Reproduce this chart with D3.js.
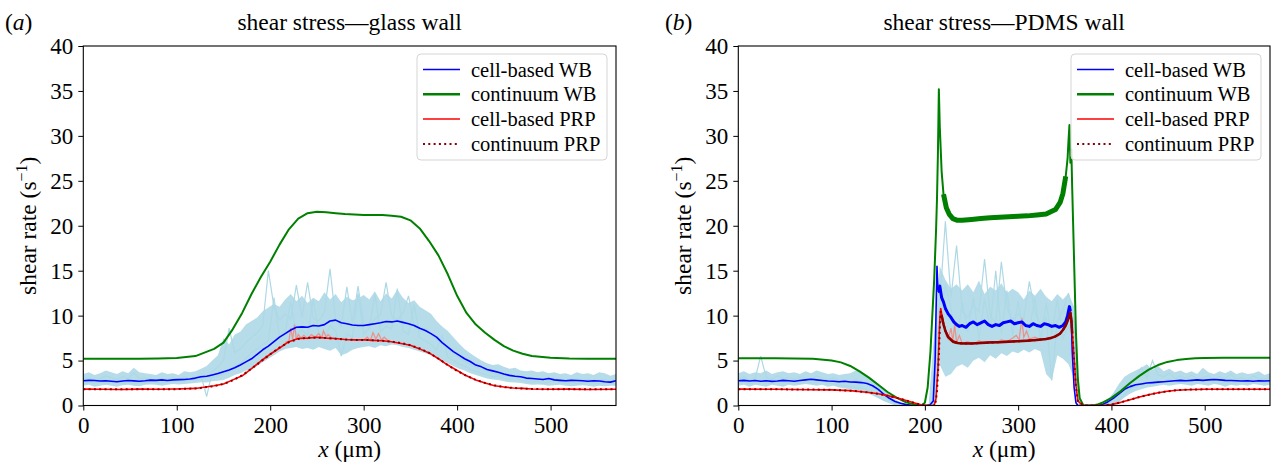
<!DOCTYPE html>
<html>
<head>
<meta charset="utf-8">
<script src="https://cdn.jsdelivr.net/npm/d3@7"></script>
<style>
  body { margin: 0; background: #fff; }
  svg { display: block; font-family: "Liberation Serif", "Times New Roman", serif; }
</style>
</head>
<body>
<div id="chart"></div>
<script>
// sample positions (um) for the noisy cell traces, every 6 um
const grid6 = d3.range(0, 571, 6);

// ---------- panel (a): glass wall ----------
const xsContA = [0,20,40,60,80,100,120,140,150,160,170,180,190,200,210,220,230,240,250,260,270,280,290,300,310,320,330,340,350,360,370,380,390,400,410,420,430,440,450,460,470,480,500,520,540,570];
const contWBa = [5.2,5.2,5.2,5.2,5.22,5.28,5.5,6.3,7.0,8.5,10.3,12.4,14.3,16.0,17.9,19.6,20.8,21.4,21.55,21.5,21.4,21.3,21.25,21.2,21.2,21.2,21.1,21.0,20.6,19.7,18.3,16.7,14.6,12.2,10.3,9.0,8.1,7.3,6.6,6.1,5.75,5.5,5.3,5.22,5.2,5.2];
const contPRPa = [1.8,1.8,1.8,1.8,1.8,1.82,1.9,2.15,2.4,2.8,3.35,4.1,4.9,5.7,6.45,7.05,7.4,7.55,7.55,7.5,7.42,7.35,7.3,7.3,7.25,7.2,7.1,6.95,6.7,6.35,5.85,5.2,4.5,3.85,3.3,2.85,2.5,2.25,2.05,1.95,1.88,1.84,1.8,1.8,1.8,1.8];
const cellPRPa = [1.82,1.8,1.78,1.82,1.8,1.83,1.9,2.2,2.4,2.85,3.3,4.1,4.95,5.7,6.4,7.1,7.45,7.5,7.6,7.5,7.45,7.35,7.3,7.32,7.25,7.2,7.1,6.9,6.7,6.3,5.85,5.2,4.5,3.9,3.3,2.85,2.5,2.2,2.05,1.95,1.9,1.83,1.8,1.82,1.78,1.8];

// cell-based WB mean on grid6
const cellWBa = [
  2.75,2.8,2.78,2.72,2.75,2.7,2.65,2.72,2.78,2.74,
  2.7,2.75,2.82,2.8,2.85,2.78,2.85,2.88,2.9,2.95,
  3.05,3.2,3.25,3.4,3.55,3.75,3.95,4.2,4.5,4.85,
  5.2,5.7,6.2,6.6,7.1,7.6,8.0,8.4,8.7,8.75,
  8.7,8.9,8.85,9.0,9.4,9.5,9.2,9.1,8.95,8.9,
  8.9,9.0,9.1,9.2,9.35,9.3,9.4,9.25,9.1,8.9,
  8.6,8.35,8.0,7.6,7.0,6.5,6.0,5.6,5.2,4.9,
  4.5,4.3,4.0,3.85,3.7,3.5,3.35,3.25,3.2,3.05,
  3.0,2.95,2.9,3.0,2.85,2.8,2.75,2.8,2.78,2.75,
  2.7,2.75,2.72,2.65,2.6,2.75];
// spread of individual cell-based WB runs
const bandLoA = [
  2.2,2.3,2.1,2.2,2.3,2.2,2.1,2.25,2.3,2.2,
  2.15,2.3,2.35,2.3,2.2,2.3,2.4,2.35,2.4,2.45,
  2.5,2.6,2.55,2.7,2.75,2.85,3.1,3.4,3.6,3.9,
  4.0,4.4,4.8,5.2,5.6,6.0,6.3,6.4,6.5,6.3,
  6.4,6.2,6.5,6.3,6.1,6.4,5.6,5.8,6.2,6.4,
  6.5,6.6,6.4,6.7,6.6,6.8,6.7,6.5,6.4,6.2,
  6.0,5.8,5.6,5.3,5.0,4.7,4.4,4.1,3.9,3.6,
  3.4,3.2,3.0,2.9,2.85,2.7,2.6,2.55,2.5,2.4,
  2.3,2.35,2.3,2.2,2.25,2.3,2.2,2.15,2.2,2.25,
  2.2,2.1,2.2,2.15,2.2,2.2];
const bandHiA = [
  3.5,3.7,3.4,3.6,3.9,3.7,3.5,3.8,3.6,4.2,
  3.7,3.6,3.5,3.4,3.7,3.5,3.6,3.4,3.8,3.7,
  3.8,4.1,4.4,5.0,5.6,7.5,6.8,7.9,8.2,9.0,
  9.4,9.8,10.5,10.9,11.3,11.0,11.8,12.4,11.6,12.2,
  11.4,12.0,11.6,12.6,11.8,12.4,11.5,12.1,11.7,11.9,
  12.3,11.8,12.7,11.6,12.5,11.9,12.9,12.0,11.4,11.7,
  11.0,10.6,10.2,9.4,8.8,8.3,7.6,6.9,6.3,5.8,
  5.4,5.0,4.7,4.5,4.6,4.3,4.1,4.2,3.9,3.8,
  3.9,3.7,3.8,3.6,3.7,3.5,3.6,3.4,3.7,3.5,
  3.6,3.4,3.7,3.6,3.3,3.5];
const traceA1 = [
  2.9,3.1,2.8,3.0,3.3,3.1,2.9,3.2,3.0,3.6,
  3.0,3.1,2.9,2.8,3.0,2.9,3.1,2.8,3.2,3.0,
  3.1,3.3,1.0,3.8,4.3,5.0,8.6,5.9,6.3,7.0,
  7.6,8.1,8.9,15.0,11.0,9.5,10.2,9.6,13.4,9.8,
  13.7,9.7,9.4,10.4,15.2,9.6,8.8,13.2,9.2,13.3,
  9.0,8.9,9.6,10.1,13.7,9.9,9.5,10.3,12.2,8.8,
  8.4,8.6,7.9,7.4,6.8,6.3,5.8,5.3,4.9,4.6,
  4.3,4.0,3.8,3.6,3.5,3.3,3.2,3.4,3.1,3.0,
  3.1,2.9,3.0,2.8,3.0,2.9,2.7,2.9,3.0,2.8,
  2.9,2.7,2.8,2.9,2.7,2.8];
const traceA2 = [
  2.4,2.6,2.5,2.7,2.4,2.6,2.8,2.5,2.6,2.4,
  2.6,2.5,2.7,2.6,2.5,2.7,2.6,2.8,2.7,2.9,
  2.8,3.0,3.2,3.1,3.3,3.5,3.9,4.3,4.7,5.2,
  5.9,6.3,6.8,7.2,12.0,7.6,8.2,11.5,7.9,8.4,
  7.8,11.8,8.1,7.5,8.9,8.3,5.5,8.0,7.6,12.5,
  7.9,8.6,12.4,8.2,8.8,8.5,13.0,8.3,7.9,11.3,
  7.5,7.2,6.8,6.2,7.8,5.4,5.0,4.6,4.4,4.0,
  3.8,3.6,3.4,3.2,3.3,3.0,2.9,3.0,2.8,2.7,
  2.6,2.7,2.5,2.6,2.8,2.6,2.5,2.6,2.4,2.5,
  2.6,2.5,2.4,2.6,2.5,2.4];
// individual cell-based PRP runs poking above the mean
const prpTraceA = [[216,7.0],[220,7.2],[222,8.6],[224,7.4],[226,9.0],[228,7.3],[230,7.9],[233,7.5],[236,7.8],[240,7.4],[244,7.9],[248,7.6],[252,8.0],[255,7.5],[257,8.3],[260,7.6],[262,7.9],[266,7.5]];
const prpTraceA2 = [[300,7.3],[304,7.6],[307,7.2],[310,8.1],[313,7.4],[316,8.0],[319,7.3],[322,7.6],[326,7.2]];

// ---------- panel (b): PDMS wall ----------
const contWBb = [[0,5.25],[40,5.25],[80,5.2],[100,5.0],[110,4.8],[120,4.4],[130,3.8],[140,3.1],[150,2.3],[160,1.5],[170,0.85],[180,0.35],[190,0.08],[196,0],[200,0.3],[203,2],[206,6],[208,10],[210,14],[212,19.5],[213,23],[214,28],[215,35.2],[216,31],[217,28.5],[218,26],[220,23.5],[223,22],[226,21.3],[230,20.8],[235,20.6],[240,20.6],[250,20.7],[260,20.8],[270,20.9],[280,20.95],[290,21],[300,21.05],[310,21.1],[320,21.2],[330,21.3],[340,21.8],[345,22.6],[348,23.6],[351,25.5],[353,27.5],[354,29.5],[355,31.2],[356,27],[357,28.5],[358,24],[360,16],[362,8],[364,3],[366,0.8],[370,0],[380,0],[385,0.1],[390,0.3],[400,0.85],[410,1.6],[420,2.5],[430,3.3],[440,4.0],[450,4.5],[460,4.85],[470,5.05],[480,5.18],[490,5.25],[500,5.28],[520,5.3],[570,5.3]];
const contPRPb = [[0,1.8],[40,1.8],[80,1.78],[100,1.74],[120,1.65],[140,1.45],[150,1.3],[160,1.1],[170,0.85],[180,0.55],[190,0.25],[196,0.08],[205,0],[211,0],[213,1.5],[215,5.5],[216,8.5],[217,10.5],[218,10.0],[220,9.0],[222,8.3],[225,7.6],[230,7.1],[235,6.95],[240,6.9],[250,6.9],[260,6.95],[270,7.0],[280,7.05],[290,7.1],[300,7.15],[310,7.2],[320,7.3],[330,7.4],[335,7.5],[340,7.7],[345,8.0],[348,8.4],[351,8.9],[353,9.4],[355,10.0],[356,10.3],[357,9.6],[358,8.0],[360,5.0],[362,2.0],[364,0.5],[370,0],[390,0],[400,0.1],[410,0.35],[420,0.65],[430,0.95],[440,1.2],[450,1.42],[460,1.58],[470,1.7],[480,1.76],[500,1.8],[570,1.8]];
const cellPRPb = [[0,1.82],[40,1.8],[80,1.76],[100,1.74],[120,1.66],[140,1.45],[150,1.3],[160,1.1],[170,0.85],[180,0.55],[190,0.25],[196,0.08],[205,0],[210,0],[212,0.8],[214,4],[216,9.5],[217,10.8],[218,10.2],[220,9.2],[222,8.4],[225,7.7],[230,7.2],[235,7.0],[240,6.95],[250,6.9],[260,7.0],[270,7.05],[280,7.1],[290,7.15],[300,7.2],[310,7.25],[320,7.3],[330,7.4],[335,7.5],[340,7.7],[345,8.0],[348,8.4],[351,8.9],[353,9.4],[355,10.0],[356,10.4],[357,9.8],[358,8.2],[360,5.2],[362,2.2],[364,0.5],[370,0],[390,0],[400,0.1],[410,0.35],[420,0.65],[430,0.95],[440,1.2],[450,1.42],[460,1.58],[470,1.7],[480,1.76],[500,1.8],[570,1.8]];
const cellWBb = [[0,2.75],[6,2.8],[12,2.72],[18,2.78],[24,2.7],[30,2.75],[36,2.68],[42,2.72],[48,2.8],[54,2.75],[60,2.7],[66,2.78],[72,2.85],[78,2.92],[84,2.85],[90,2.78],[96,2.72],[102,2.7],[108,2.65],[114,2.7],[120,2.62],[126,2.6],[132,2.55],[138,2.45],[144,2.2],[150,1.8],[156,1.25],[162,0.8],[168,0.45],[174,0.25],[180,0.1],[186,0.02],[192,0],[205,0],[209,0.5],[211,5.0],[212,10.5],[213,15.5],[214,13.0],[215,12.6],[216,13.3],[218,12.0],[220,11.5],[222,10.8],[225,10.2],[228,9.8],[231,9.3],[234,9.0],[237,8.8],[240,8.9],[244,8.7],[248,9.1],[252,9.3],[256,9.0],[260,9.2],[264,9.4],[268,9.0],[272,8.8],[276,9.0],[280,8.9],[284,9.2],[288,9.3],[292,9.4],[296,9.1],[300,9.2],[304,9.3],[308,8.9],[312,8.8],[316,9.1],[320,8.9],[324,8.8],[328,9.1],[332,9.0],[336,8.8],[340,8.9],[344,8.7],[348,8.9],[351,9.3],[353,10.0],[355,11.0],[356,10.5],[357,9.5],[358,6.0],[360,2.0],[362,0.3],[364,0],[385,0],[390,0.1],[396,0.4],[402,0.8],[408,1.3],[414,1.8],[420,2.1],[426,2.3],[432,2.4],[438,2.5],[444,2.55],[450,2.6],[456,2.65],[462,2.7],[468,2.75],[474,2.8],[480,2.75],[486,2.8],[492,2.85],[498,2.8],[504,2.85],[510,2.9],[516,2.85],[522,2.8],[528,2.78],[534,2.75],[540,2.72],[546,2.75],[552,2.7],[558,2.75],[564,2.72],[570,2.75]];
const bandLoB = [
  2.2,2.3,2.1,2.3,2.2,2.1,2.3,2.2,2.1,2.3,
  2.2,2.3,2.4,2.3,2.2,2.3,2.1,2.2,2.0,1.9,
  1.8,1.7,1.6,1.4,1.1,0.8,0.5,0.3,0.15,0.05,
  0,0,0,0,0,0,4.5,3.2,3.5,4.3,
  4.6,4.2,5.0,5.3,4.8,5.6,5.2,5.8,5.5,6.0,
  5.8,6.2,5.9,6.3,6.0,3.5,2.8,5.6,5.2,4.6,
  3.0,0,0,0,0,0,0,0.1,0.4,0.9,
  1.3,1.6,1.8,2.0,2.1,2.2,2.3,2.2,2.3,2.4,
  2.3,2.2,2.4,2.3,2.2,2.4,2.3,2.1,2.3,2.2,
  2.3,2.2,2.4,2.3,2.2,2.3];
const bandHiB = [
  3.6,3.8,3.5,3.7,3.6,3.9,3.5,3.7,3.8,3.6,
  3.7,3.5,3.8,3.6,3.9,3.7,3.5,3.6,3.4,3.5,
  3.6,3.9,3.7,3.3,2.9,2.4,1.8,1.2,0.7,0.35,
  0.1,0,0,0,0,8.0,15.5,14.0,13.0,13.5,
  12.8,13.5,12.6,13.9,12.4,13.2,12.8,13.6,12.5,13.0,
  12.6,11.8,12.8,12.2,13.0,12.1,11.6,12.4,11.8,12.5,
  11.0,0.3,0,0,0,0.1,0.6,1.4,2.4,3.2,
  3.6,3.9,4.2,4.6,4.0,4.4,3.8,4.1,3.7,3.9,
  3.6,3.8,3.5,4.2,3.7,3.5,3.8,3.6,3.9,3.5,
  3.7,3.5,3.6,3.8,3.4,3.6];
const traceB1 = [
  2.9,3.2,2.8,3.0,5.5,3.1,2.9,3.3,3.0,3.1,
  2.9,3.2,3.0,2.8,3.3,3.0,2.9,3.1,2.8,2.7,
  2.6,2.9,2.7,2.5,2.1,1.6,1.0,0.6,0.3,0.1,
  0,0,0,0,0,0,11.5,20.5,12.0,17.8,
  10.5,9.8,11.2,10.4,16.3,10.0,9.2,16.0,10.8,9.5,
  10.2,9.6,13.8,10.4,8.9,9.8,2.8,9.4,10.6,12.5,
  9.0,0,0,0,0,0,0,0.2,1.0,2.0,
  2.6,3.0,4.2,3.1,5.0,3.4,3.2,3.6,3.0,3.3,
  3.0,3.4,2.9,3.1,3.3,2.8,3.2,3.0,3.5,2.9,
  3.1,2.8,3.3,3.0,2.9,3.2];
const traceB2 = [
  2.5,2.7,2.4,2.6,2.8,2.5,2.4,2.7,2.6,2.5,
  2.6,2.4,2.7,2.5,2.6,2.8,2.5,2.4,2.3,2.2,
  2.1,2.0,2.0,1.7,1.4,1.0,0.6,0.3,0.1,0,
  0,0,0,0,0,0,8.5,13.5,10.8,7.0,
  11.5,8.2,12.0,7.4,11.8,8.6,15.0,8.0,12.8,7.8,
  11.6,7.6,8.4,12.0,7.2,11.4,8.0,11.8,7.5,8.8,
  7.0,0,0,0,0,0,0,0.1,0.6,1.2,
  1.8,2.1,2.4,2.6,2.5,2.8,2.6,2.9,2.7,2.5,
  2.6,2.8,2.5,2.7,2.9,2.6,2.4,2.7,2.5,2.6,
  2.7,2.5,2.6,2.8,2.5,2.6];
const prpTraceB = [[222,8.0],[225,7.4],[228,8.6],[230,7.2],[232,9.0],[234,7.0],[237,7.8],[240,6.9],[246,7.1],[252,6.8],[258,7.2],[264,6.9],[270,7.1],[276,7.0],[282,7.3],[288,7.1],[294,7.5],[298,7.8],[301,7.3],[304,9.7],[306,7.6],[309,8.3],[312,7.4],[318,7.6],[324,7.3],[330,7.5],[336,7.6]];

const xTicks = [0, 100, 200, 300, 400, 500];
const yTicks = [0, 5, 10, 15, 20, 25, 30, 35, 40];
const legendItems = [
  {label: "cell-based WB", color: "#0000ff", width: 1.5},
  {label: "continuum WB", color: "#008000", width: 2.5},
  {label: "cell-based PRP", color: "#ff0000", width: 1.5},
  {label: "continuum PRP", color: "#8b0000", width: 2, dash: "2,3.3"}
];

const width = 1275, height = 466;
const plotTop = 46, plotBottom = 405.5;

const svg = d3.select("#chart").append("svg")
    .attr("width", width)
    .attr("height", height)

svg.append("rect").attr("width", width).attr("height", height).attr("fill", "#fff")

const onGrid = ys => ys.map((v, i) => [grid6[i], v]);
const zipX = (xs, ys) => ys.map((v, i) => [xs[i], v]);

function drawPanel(p) {
    const x = d3.scaleLinear().domain([0, 570]).range([p.left, p.right]);
    const y = d3.scaleLinear().domain([0, 40]).range([plotBottom, plotTop]);
    const g = svg.append("g");

    g.append("clipPath").attr("id", "clip" + p.id)
      .append("rect")
        .attr("x", p.left).attr("y", plotTop)
        .attr("width", p.right - p.left).attr("height", plotBottom - plotTop);

    const plot = g.append("g").attr("clip-path", `url(#clip${p.id})`);
    const line = d3.line().x(d => x(d[0])).y(d => y(d[1]));

    // light blue cloud of single runs
    plot.append("path")
        .datum(grid6.map((xv, i) => [xv, p.bandLo[i], p.bandHi[i]]))
        .attr("d", d3.area().x(d => x(d[0])).y0(d => y(d[1])).y1(d => y(d[2])))
        .attr("fill", "#add8e6")
        .attr("opacity", 0.9);

    plot.selectAll(".trace")
      .data(p.traces)
      .join("path")
        .attr("d", d => line(onGrid(d)))
        .attr("fill", "none")
        .attr("stroke", "#add8e6")
        .attr("stroke-width", 1.2);

    plot.selectAll(".prp")
      .data(p.prpTraces)
      .join("path")
        .attr("d", line)
        .attr("fill", "none")
        .attr("stroke", "#fa8072")
        .attr("stroke-opacity", 0.8)
        .attr("stroke-width", 1.2);

    const series = [
        {d: p.cellWB, color: "#0000ff", w: 1.6},
        {d: p.contWB, color: "#008000", w: 2},
        {d: p.cellPRP, color: "#ff0000", w: 1.6}
    ];
    series.forEach(s => {
        plot.append("path").datum(s.d)
            .attr("d", line)
            .attr("fill", "none")
            .attr("stroke", s.color)
            .attr("stroke-width", s.w)
            .attr("stroke-linejoin", "round");
    });

    // noisier middle sections of panel (b) read as thicker strokes
    if (p.thick) {
        p.thick.forEach(t => {
            plot.append("path").datum(t.d.filter(d => d[0] >= t.from && d[0] <= t.to))
                .attr("d", line)
                .attr("fill", "none")
                .attr("stroke", t.color)
                .attr("stroke-width", t.w)
                .attr("stroke-linejoin", "round");
        });
    }

    plot.append("path").datum(p.contPRP)
        .attr("d", line)
        .attr("fill", "none")
        .attr("stroke", "#8b0000")
        .attr("stroke-width", 2)
        .attr("stroke-dasharray", "2,3.3");

    // axes
    const xAxis = g.append("g")
        .attr("transform", `translate(0,${plotBottom})`)
        .call(d3.axisBottom(x).tickValues(xTicks).tickSize(5).tickPadding(6).tickSizeOuter(0));
    const yAxis = g.append("g")
        .attr("transform", `translate(${p.left},0)`)
        .call(d3.axisLeft(y).tickValues(yTicks).tickSize(5).tickPadding(5).tickSizeOuter(0));
    [xAxis, yAxis].forEach(a => {
        a.select(".domain").remove();
        a.selectAll("text").attr("font-size", 23).attr("font-family", "Liberation Serif").attr("fill", "#000");
        a.selectAll("line").attr("stroke", "#000").attr("stroke-width", 1);
    });

    g.append("rect")
        .attr("x", p.left).attr("y", plotTop)
        .attr("width", p.right - p.left).attr("height", plotBottom - plotTop)
        .attr("fill", "none").attr("stroke", "#000").attr("stroke-width", 1.1);

    // titles and labels
    const cx = (p.left + p.right) / 2;
    g.append("text").attr("x", cx).attr("y", 30)
        .attr("text-anchor", "middle").attr("font-size", 23.5)
        .text(p.title);
    const tag = g.append("text").attr("x", p.tagX).attr("y", 30).attr("font-size", 23.5);
    tag.append("tspan").text("(");
    tag.append("tspan").attr("font-style", "italic").text(p.tag);
    tag.append("tspan").text(")");

    const xl = g.append("text").attr("x", cx).attr("y", 457)
        .attr("text-anchor", "middle").attr("font-size", 23.5);
    xl.append("tspan").attr("font-style", "italic").text("x");
    xl.append("tspan").text(" (μm)");

    const yl = g.append("text")
        .attr("transform", `translate(${p.left - 47},${(plotTop + plotBottom) / 2}) rotate(-90)`)
        .attr("text-anchor", "middle").attr("font-size", 23.5);
    yl.append("tspan").text("shear rate (s");
    yl.append("tspan").attr("font-size", 16).attr("dy", -9).text("−1");
    yl.append("tspan").attr("dy", 9).text(")");

    // legend
    const lx = p.right - 199, ly = 54;
    const leg = g.append("g");
    leg.append("rect")
        .attr("x", lx).attr("y", ly).attr("width", 190).attr("height", 106).attr("rx", 4)
        .attr("fill", "#fff").attr("fill-opacity", 0.8)
        .attr("stroke", "#d5d5d5").attr("stroke-width", 1);
    legendItems.forEach((it, i) => {
        const yy = ly + 15.5 + i * 24.8;
        leg.append("line")
            .attr("x1", lx + 6).attr("x2", lx + 43)
            .attr("y1", yy).attr("y2", yy)
            .attr("stroke", it.color).attr("stroke-width", it.width)
            .attr("stroke-dasharray", it.dash || null);
        leg.append("text").attr("x", lx + 54).attr("y", yy).attr("dy", "0.35em")
            .attr("font-size", 20.5).text(it.label);
    });
}

drawPanel({
    id: "a", left: 83.3, right: 616, title: "shear stress—glass wall", tag: "a", tagX: 5,
    bandLo: bandLoA, bandHi: bandHiA, traces: [traceA1, traceA2],
    prpTraces: [prpTraceA, prpTraceA2],
    cellWB: onGrid(cellWBa), contWB: zipX(xsContA, contWBa),
    cellPRP: zipX(xsContA, cellPRPa), contPRP: zipX(xsContA, contPRPa)
});

drawPanel({
    id: "b", left: 738.3, right: 1270, title: "shear stress—PDMS wall", tag: "b", tagX: 665,
    bandLo: bandLoB, bandHi: bandHiB, traces: [traceB1, traceB2],
    prpTraces: [prpTraceB],
    cellWB: cellWBb, contWB: contWBb, cellPRP: cellPRPb, contPRP: contPRPb,
    thick: [
        {d: cellWBb, from: 215, to: 356, color: "#0000ff", w: 3},
        {d: contWBb, from: 220, to: 351, color: "#008000", w: 5},
        {d: contPRPb, from: 218, to: 358, color: "#8b0000", w: 2.5}
    ]
});
</script>
</body>
</html>
